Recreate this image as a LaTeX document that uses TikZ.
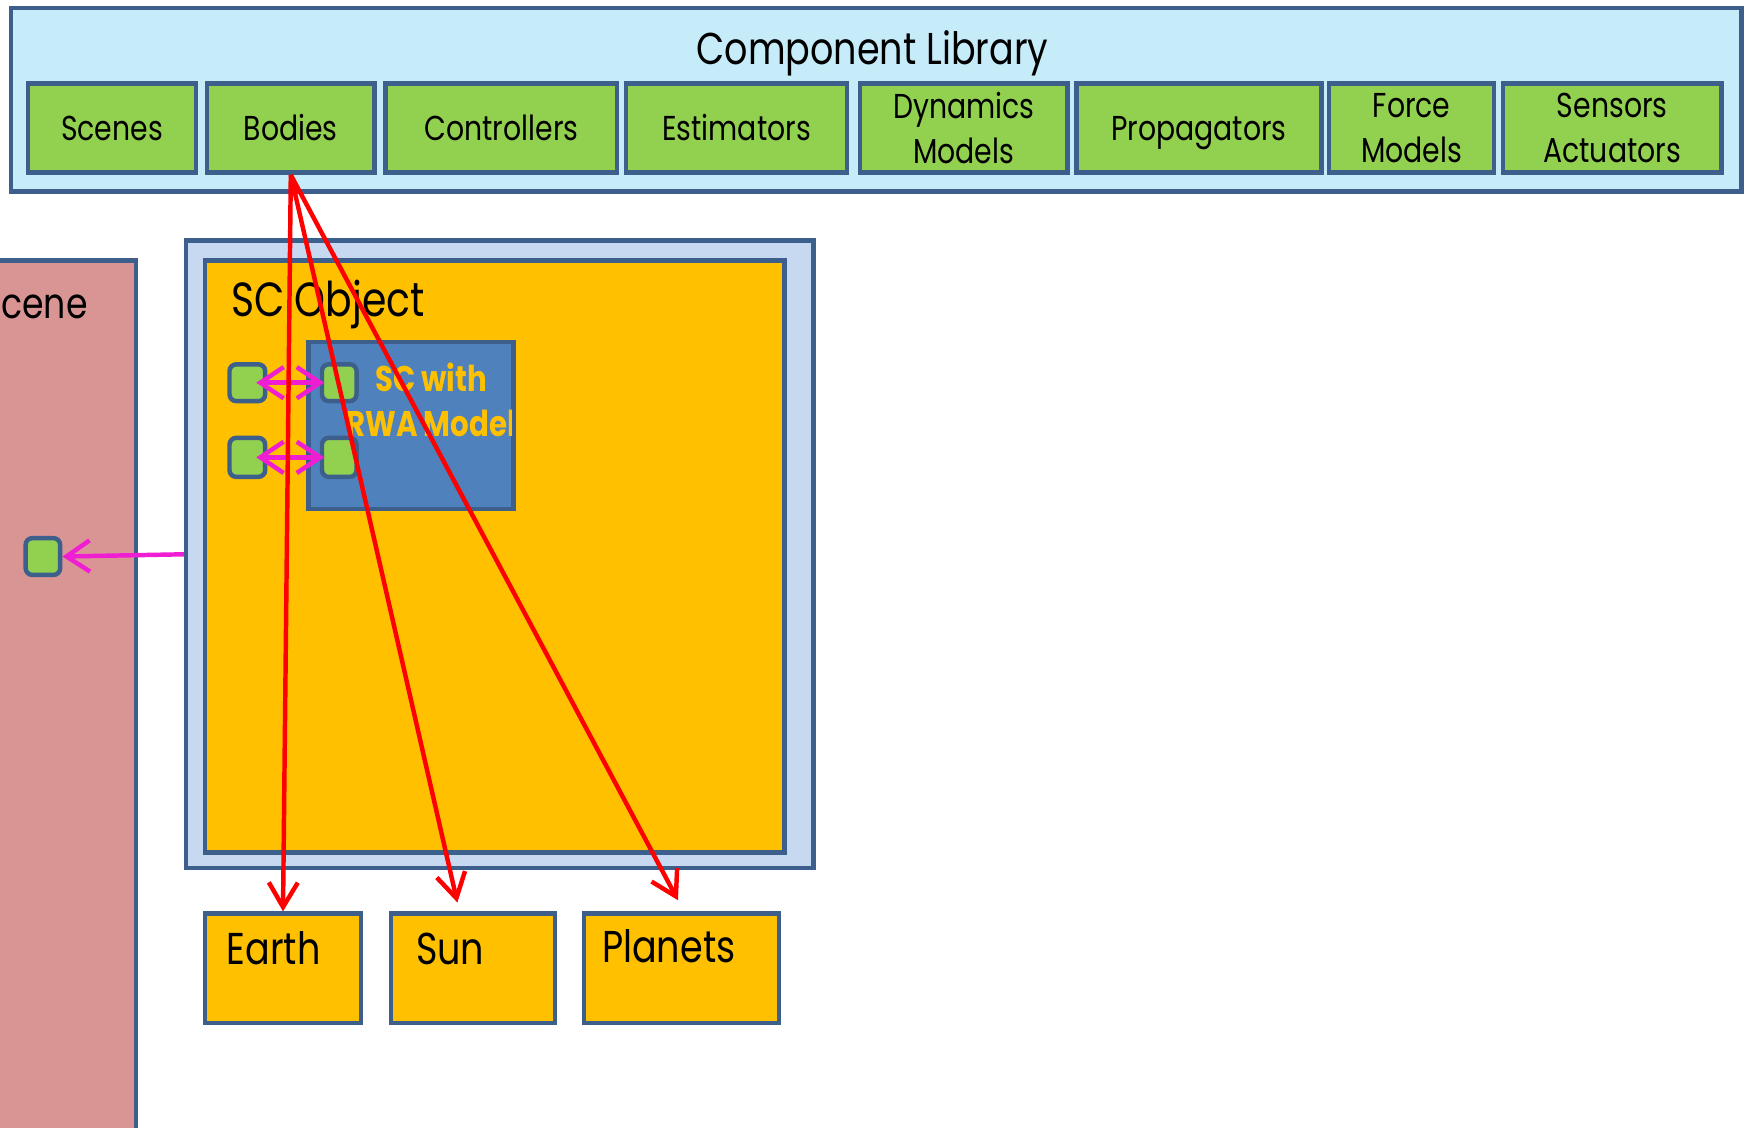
\documentclass[tikz,border=0pt]{standalone}
\usepackage{fontspec}
\setmainfont{Poppins}[FakeStretch=0.82]
\usetikzlibrary{arrows.meta,fit}

\definecolor{edge}{HTML}{3C5F8C}
\definecolor{libfill}{HTML}{C6ECFA}
\definecolor{modfill}{HTML}{92D050}
\definecolor{scenefill}{HTML}{D99594}
\definecolor{shellfill}{HTML}{C6D9F1}
\definecolor{objfill}{HTML}{FFC000}
\definecolor{rwafill}{HTML}{4F81BD}
\definecolor{portlink}{HTML}{F01ED2}
\definecolor{bodylink}{HTML}{FF0000}

\begin{document}
\begin{tikzpicture}[x=0.5pt,y=-0.5pt,
  panel/.style={draw=edge, line width=2pt, inner sep=0pt},
  module/.style={panel, fill=modfill},
  modtext/.style={inner sep=0pt, align=center, font=\fontsize{15.5}{20}\selectfont},
  modline/.style={modtext, text height=11pt, text depth=0pt},
  body/.style={panel, fill=objfill},
  port/.style={draw=edge, line width=2pt, fill=modfill, inner sep=0pt,
    rounded corners=3pt},
  label/.style={inner sep=0pt, anchor=base west},
  barb/.tip={Straight Barb[length=10.5pt,width=14pt,line width=2pt]},
  bigbarb/.tip={Straight Barb[length=11pt,width=13pt,line width=2pt]},
  portarrow/.style={draw=portlink, line width=2pt, arrows={barb-barb}},
  sendarrow/.style={draw=portlink, line width=2pt, arrows={-barb}},
  bodyarrow/.style={draw=bodylink, line width=2pt, arrows={-bigbarb}}]

\useasboundingbox (0,0) rectangle (1568,1012);
\clip (0,0) rectangle (1568,1012);

% component library with its modules
\node[panel, fill=libfill, fit={(10,7) (1563,172)}] (lib) {};
\node[inner sep=0pt, font=\fontsize{20}{24}\selectfont] (libtitle) at (783,48) {Component Library};
\node[module, fit={(25,75) (176,155)}] (scenes) {};
\node[module, fit={(186,75) (336,155)}] (bodies) {};
\node[module, fit={(346,75) (554,155)}] (controllers) {};
\node[module, fit={(562,75) (760,155)}] (estimators) {};
\node[module, fit={(772,75) (958,155)}] (dynamics) {};
\node[module, fit={(966,75) (1186,155)}] (propagators) {};
\node[module, fit={(1193,75) (1341,155)}] (force) {};
\node[module, fit={(1349,75) (1545,155)}] (sensors) {};
\node[modline] (scenes-t) at (scenes.center) {Scenes};
\node[modline] (bodies-t) at (bodies.center) {Bodies};
\node[modline] (controllers-t) at (controllers.center) {Controllers};
\node[modline] (estimators-t) at (estimators.center) {Estimators};
\node[modtext] (dynamics-t) at (dynamics.center) {Dynamics\\Models};
\node[modline] (propagators-t) at (propagators.center) {Propagators};
\node[modtext] (force-t) at (force.center) {Force\\Models};
\node[modtext] (sensors-t) at (sensors.center) {Sensors\\Actuators};

% scene panel, running past the left and bottom edges
\node[panel, fill=scenefill, fit={(-40,234) (122,1040)}] (scene) {};
\node[inner sep=0pt, anchor=base east, font=\fontsize{19}{22}\selectfont] (scenetitle) at (79,286) {Scene};
\node[port, fit={(23,483) (54,516)}] (sp) {};

% spacecraft object
\node[panel, fill=shellfill, fit={(167,216) (730,779)}] (shell) {};
\node[body, fit={(184,234) (704,765)}] (sc) {};
\node[label, font=\fontsize{21.5}{24}\selectfont] (sctitle) at (207,284) {SC Object};

% reaction wheel model
\node[panel, fill=rwafill, fit={(277,307) (461,457)}] (rwa) {};
\begin{scope}
  \clip (279,309) rectangle (459,455);
  \node[inner sep=0pt, align=center, text=objfill,
    font=\bfseries\fontsize{16}{20}\selectfont] (rwatext) at (387,359) {SC with\\RWA Model};
\end{scope}

% ports
\node[port, fit={(206,327) (238,360)}] (p1) {};
\node[port, fit={(206,393) (238,428)}] (p2) {};
\node[port, fit={(289,327) (320,360)}] (q1) {};
\node[port, fit={(289,393) (320,428)}] (q2) {};

% celestial bodies
\node[body, fit={(184,820) (324,918)}] (earth) {};
\node[body, fit={(351,820) (498,918)}] (sun) {};
\node[body, fit={(524,820) (699,918)}] (planets) {};
\node[label, font=\fontsize{20}{24}\selectfont] (earthtext) at (203,866) {Earth};
\node[label, font=\fontsize{20}{24}\selectfont] (suntext) at (373,866) {Sun};
\node[label, font=\fontsize{20}{24}\selectfont] (planetstext) at (540,864) {Planets};

% port links
\draw[portarrow] ([xshift=4pt]p1.center) -- ([xshift=2pt]q1.west);
\draw[portarrow] ([xshift=4pt]p2.center) -- ([xshift=2pt]q2.west);
\draw[sendarrow] (shell.west) -- (sp.east);

% body links
\draw[bodyarrow] (bodies.south) -- (earth.north);
\draw[bodyarrow] (bodies.south) -- ([xshift=-7pt,yshift=4pt]sun.north);
\draw[bodyarrow] (bodies.south) -- ([xshift=-1.5pt,yshift=5pt]planets.north);
\end{tikzpicture}
\end{document}
